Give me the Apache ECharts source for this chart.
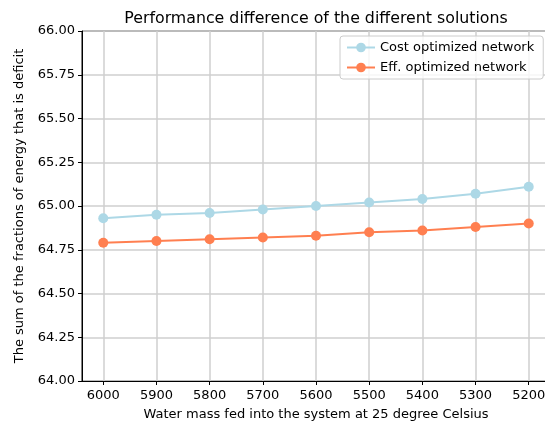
<!DOCTYPE html>
<html><head><meta charset="utf-8">
<script src="https://cdn.jsdelivr.net/npm/echarts@6/dist/echarts.min.js"></script>
<style>html,body{margin:0;padding:0;background:#fff}#c{width:545px;height:423px}</style>
</head><body><div id="c"></div>
<script>
const waterMass = [6000, 5900, 5800, 5700, 5600, 5500, 5400, 5300, 5200];
const costOptimized = [64.93, 64.95, 64.96, 64.98, 65.00, 65.02, 65.04, 65.07, 65.11];
const effOptimized = [64.79, 64.80, 64.81, 64.82, 64.83, 64.85, 64.86, 64.88, 64.90];
const seriesNames = ['Cost optimized network', 'Eff. optimized network'];
const font = 'DejaVu Sans';
const chart = echarts.init(document.getElementById('c'), null, {renderer: 'canvas'});
chart.setOption({
  animation: false,
  backgroundColor: '#fff',
  title: {
    text: 'Performance difference of the different solutions',
    left: 311, top: 6, textAlign: 'center',
    textStyle: {fontFamily: font, fontSize: 15.8, fontWeight: 'normal', color: '#000'}
  },
  legend: {
    orient: 'vertical', left: 340, top: 36,
    backgroundColor: 'rgba(255,255,255,0.8)', borderColor: '#cccccc', borderWidth: 1, borderRadius: 3,
    padding: [5, 9, 5, 6], itemGap: 7, itemWidth: 28, itemHeight: 12,
    textStyle: {fontFamily: font, fontSize: 13, color: '#000'},
    data: seriesNames
  },
  grid: {left: 82, width: 468, top: 31, height: 350, show: true, borderColor: '#000', borderWidth: 1,
         containLabel: false, outerBoundsMode: 'none'},
  xAxis: {
    type: 'value', inverse: true, min: 5160, max: 6040,
    name: 'Water mass fed into the system at 25 degree Celsius', nameLocation: 'middle', nameGap: 27,
    nameTextStyle: {fontFamily: font, fontSize: 13, color: '#000'},
    axisLine: {show: true, onZero: false, lineStyle: {color: '#000', width: 1}},
    axisTick: {show: true, length: 4, inside: false, customValues: waterMass, lineStyle: {color: '#000'}},
    axisLabel: {customValues: waterMass, fontFamily: font, fontSize: 13, color: '#000', margin: 8, formatter: v => String(v)},
    splitLine: {show: true, lineStyle: {color: '#cfcfcf', width: 1.5}}
  },
  yAxis: {
    type: 'value', min: 64, max: 66, interval: 0.25,
    name: 'The sum of the fractions of energy that is deficit', nameLocation: 'middle', nameGap: 56,
    nameTextStyle: {fontFamily: font, fontSize: 13, color: '#000'},
    axisLine: {show: true, lineStyle: {color: '#000', width: 1}},
    axisTick: {show: true, length: 4, lineStyle: {color: '#000'}},
    axisLabel: {fontFamily: font, fontSize: 13, color: '#000', margin: 7, formatter: v => v.toFixed(2)},
    splitLine: {show: true, lineStyle: {color: '#cfcfcf', width: 1.5}}
  },
  series: [
    {name: seriesNames[0], type: 'line', data: waterMass.map((x, i) => [x, costOptimized[i]]),
     symbol: 'circle', symbolSize: 10, lineStyle: {color: '#ADD8E6', width: 2}, itemStyle: {color: '#ADD8E6'}},
    {name: seriesNames[1], type: 'line', data: waterMass.map((x, i) => [x, effOptimized[i]]),
     symbol: 'circle', symbolSize: 10, lineStyle: {color: '#FF7F50', width: 2}, itemStyle: {color: '#FF7F50'}}
  ]
});
</script></body></html>
